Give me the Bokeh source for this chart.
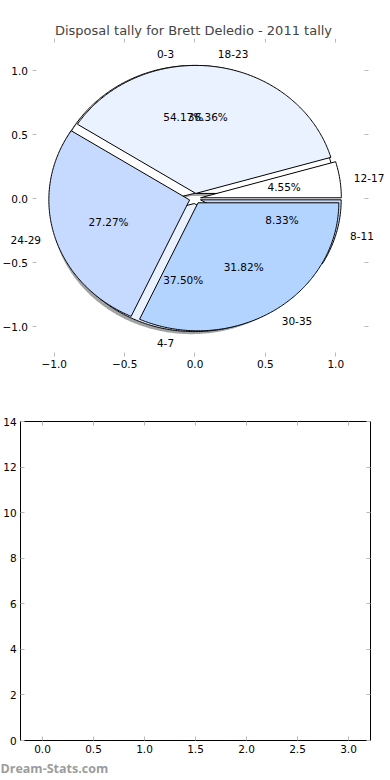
import math
from bokeh.plotting import figure
from bokeh.models import Range1d, FixedTicker, LinearAxis, CustomJSTickFormatter, Label, LabelSet, ColumnDataSource
from bokeh.layouts import column
from bokeh.core.properties import value
from bokeh.embed import file_html
from bokeh.resources import INLINE

# ---------------- data ----------------
title_text = "Disposal tally for Brett Deledio - 2011 tally"
pie1_labels = ["0-3", "4-7", "8-11"]
pie1_counts = [13, 9, 2]
pie2_labels = ["12-17", "18-23", "24-29", "30-35"]
pie2_counts = [1, 8, 6, 7]
slice_colors = ["#ffffff", "#eaf1ff", "#c6d9ff", "#b3d4ff"]
pie_ticks = [-1.0, -0.5, 0.0, 0.5, 1.0]
pie_axes_box = (-1.2398, 1.2327, -1.234, 1.25)        # x0, x1, y0, y1 of the pie axes box
pie_left_axis_x = -1.158                               # left axis moved in so its labels stay visible
bar_x_ticks = [0.0, 0.5, 1.0, 1.5, 2.0, 2.5, 3.0]
bar_y_ticks = [0, 2, 4, 6, 8, 10, 12, 14]
bar_axes_box = (-0.215, 3.215, 0, 14)
watermark = "Dream-Stats.com"

FONT = "DejaVu Sans"
EXPLODE = 0.04
SHADOW = (-0.02, -0.02)
TICK_COLOR = "#b8b8b8"

FMT1 = "return tick.toFixed(1).replace('-', '\u2212');"
FMT0 = "return tick.toFixed(0);"
FMT_NONE = "return '';"


def make_axis(p, side, ticks, code, loc, bounds, labels, line_color):
    ax = LinearAxis()
    ax.ticker = FixedTicker(ticks=ticks)
    ax.formatter = CustomJSTickFormatter(code=code if labels else FMT_NONE)
    ax.fixed_location = loc
    ax.bounds = bounds
    ax.axis_line_color = line_color
    ax.axis_line_width = 1
    ax.major_tick_in = 4
    ax.major_tick_out = 0
    ax.major_tick_line_color = TICK_COLOR
    ax.major_tick_line_width = 1
    ax.minor_tick_line_color = None
    ax.major_label_text_font = FONT
    ax.major_label_text_color = "#000000"
    ax.major_label_text_font_size = "10.5px" if labels else "0px"
    ax.major_label_standoff = 4 if labels else 0
    p.add_layout(ax, side)
    return ax


def box_axes(p, box, xticks, yticks, xcode, ycode, line_color, left_x=None):
    x0, x1, y0, y1 = box
    make_axis(p, "below", xticks, xcode, y0, (x0, x1), True, line_color)
    make_axis(p, "above", xticks, xcode, y1, (x0, x1), False, line_color)
    make_axis(p, "left", yticks, ycode, x0 if left_x is None else left_x, (y0, y1), True, line_color)
    make_axis(p, "right", yticks, ycode, x1, (y0, y1), False, line_color)


def wedges(counts, labels, colors):
    total = float(sum(counts))
    out = []
    a0 = 0.0
    for c, lab, col in zip(counts, labels, colors):
        frac = c / total
        a1 = a0 + 360.0 * frac
        mid = math.radians((a0 + a1) / 2)
        cx, cy = EXPLODE * math.cos(mid), EXPLODE * math.sin(mid)
        n = max(8, int((a1 - a0) * 1.5))
        xs, ys = [cx], [cy]
        for k in range(n + 1):
            t = math.radians(a0 + (a1 - a0) * k / n)
            xs.append(cx + math.cos(t))
            ys.append(cy + math.sin(t))
        xs.append(cx)
        ys.append(cy)
        out.append(dict(xs=xs, ys=ys, color=col, label=lab, frac=frac, mid=mid, cx=cx, cy=cy))
        a0 = a1
    return out


def dark(col):
    r, g, b = int(col[1:3], 16), int(col[3:5], 16), int(col[5:7], 16)
    return "#%02x%02x%02x" % (int(r * 0.3), int(g * 0.3), int(b * 0.3))


# ---------------- pie figure ----------------
p1 = figure(width=386, height=392, output_backend="svg", toolbar_location=None,
            x_range=Range1d(-1.38188, 1.36057), y_range=Range1d(-1.5156, 1.25),
            x_axis_type=None, y_axis_type=None,
            min_border_left=0, min_border_right=0, min_border_top=38, min_border_bottom=0,
            title=title_text)
p1.title.text_font = FONT
p1.title.text_font_size = "13px"
p1.title.text_font_style = "normal"
p1.title.align = "center"
p1.title.standoff = 2
p1.grid.visible = False
p1.outline_line_color = None
box_axes(p1, pie_axes_box, pie_ticks, pie_ticks, FMT1, FMT1, None, left_x=pie_left_axis_x)

w1 = wedges(pie1_counts, pie1_labels, slice_colors)
w2 = wedges(pie2_counts, pie2_labels, slice_colors)

# shadows of the first pie
sh = ColumnDataSource(dict(
    xs=[[x + SHADOW[0] for x in w["xs"]] for w in w1],
    ys=[[y + SHADOW[1] for y in w["ys"]] for w in w1],
    color=[dark(w["color"]) for w in w1]))
p1.patches("xs", "ys", source=sh, fill_color="color", fill_alpha=0.5, line_color=None)

for ws in (w1, w2):
    src = ColumnDataSource(dict(xs=[w["xs"] for w in ws], ys=[w["ys"] for w in ws],
                                color=[w["color"] for w in ws]))
    p1.patches("xs", "ys", source=src, fill_color="color", line_color="black", line_width=1)

groups = {"left": dict(x=[], y=[], text=[]), "right": dict(x=[], y=[], text=[]),
          "center": dict(x=[], y=[], text=[])}
for ws in (w1, w2):
    for w in ws:
        c, s = math.cos(w["mid"]), math.sin(w["mid"])
        g = groups["left" if c > 0 else "right"]
        g["x"].append(w["cx"] + 1.1 * c)
        g["y"].append(w["cy"] + 1.1 * s)
        g["text"].append(w["label"])
        g = groups["center"]
        g["x"].append(w["cx"] + 0.6 * c)
        g["y"].append(w["cy"] + 0.6 * s)
        g["text"].append("%.2f%%" % (w["frac"] * 100))
for align, g in groups.items():
    p1.add_layout(LabelSet(x="x", y="y", text="text", source=ColumnDataSource(g),
                           text_align=align, text_baseline="middle", text_font=value(FONT),
                           text_font_size="10.5px", text_color="#000000"))

# ---------------- empty axes figure ----------------
p2 = figure(width=386, height=388, output_backend="svg", toolbar_location=None,
            x_range=Range1d(-0.4118, 3.3725), y_range=Range1d(-1.7555, 15.273),
            x_axis_type=None, y_axis_type=None,
            min_border_left=0, min_border_right=0, min_border_top=0, min_border_bottom=0)
p2.grid.visible = False
p2.outline_line_color = None
box_axes(p2, bar_axes_box, bar_x_ticks, bar_y_ticks, FMT1, FMT0, "black")
p2.scatter(x=[0], y=[0], size=0, alpha=0)

p2.add_layout(Label(x=0, y=4, x_units="screen", y_units="screen", text=watermark,
                    text_font="Open Sans", text_font_size="12.5px", text_font_style="bold",
                    text_color="#9c9c9c", text_baseline="bottom"))

layout = column(p1, p2, spacing=0)
open("out.html", "w").write(file_html(layout, INLINE))
